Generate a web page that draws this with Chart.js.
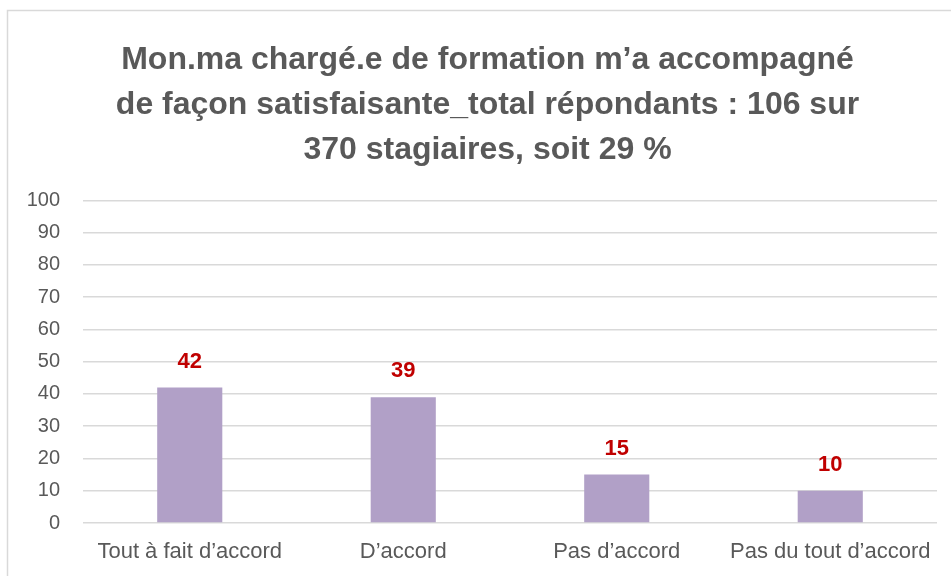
<!DOCTYPE html>
<html>
<head>
<meta charset="utf-8">
<script src="https://cdn.jsdelivr.net/npm/chart.js@4"></script>
<style>
  html, body { margin: 0; padding: 0; background: #fff; }
  #wrap { width: 951px; height: 576px; position: relative; }
</style>
</head>
<body>
<div id="wrap"><canvas id="c" width="951" height="576"></canvas></div>
<script>
const titleLines = [
  "Mon.ma chargé.e de formation m’a accompagné",
  "de façon satisfaisante_total répondants : 106 sur",
  "370 stagiaires, soit 29 %"
];
const categories = ["Tout à fait d’accord", "D’accord", "Pas d’accord", "Pas du tout d’accord"];
const values = [42, 39, 15, 10];
const yTicks = [0, 10, 20, 30, 40, 50, 60, 70, 80, 90, 100];

const frame = {
  id: 'frame',
  beforeDraw(chart) {
    const ctx = chart.ctx;
    ctx.save();
    ctx.fillStyle = '#ffffff';
    ctx.fillRect(0, 0, chart.width, chart.height);
    ctx.strokeStyle = '#d9d9d9';
    ctx.lineWidth = 1.5;
    ctx.strokeRect(7.5, 10.5, chart.width + 10, chart.height + 10);
    ctx.restore();
  }
};

const valueLabels = {
  id: 'valueLabels',
  afterDatasetsDraw(chart) {
    const ctx = chart.ctx;
    const meta = chart.getDatasetMeta(0);
    ctx.save();
    ctx.fillStyle = '#C00000';
    ctx.font = 'bold 22px "Liberation Sans", Arial, sans-serif';
    ctx.textAlign = 'center';
    ctx.textBaseline = 'middle';
    meta.data.forEach((bar, i) => {
      ctx.fillText(String(values[i]), bar.x, bar.y - 26);
    });
    ctx.restore();
  }
};

new Chart(document.getElementById('c'), {
  type: 'bar',
  data: {
    labels: categories,
    datasets: [{
      data: values,
      backgroundColor: '#b1a0c7',
      borderWidth: 0,
      barPercentage: 0.305,
      categoryPercentage: 1
    }]
  },
  options: {
    responsive: false,
    animation: false,
    layout: { padding: { left: 24, right: 0, top: 0, bottom: 0 } },
    plugins: {
      legend: { display: false },
      tooltip: { enabled: false },
      title: {
        display: true,
        text: titleLines,
        color: '#595959',
        font: { family: '"Liberation Sans Narrow", "Liberation Sans", Arial, sans-serif', size: 32, weight: 'bold', lineHeight: 1.4 },
        padding: { top: 38, bottom: 28 }
      }
    },
    scales: {
      y: {
        min: 0, max: 100,
        afterBuildTicks(axis) { axis.ticks = yTicks.map(v => ({ value: v })); },
        afterFit(axis) { axis.width = 59; },
        ticks: {
          color: '#595959',
          font: { family: '"Liberation Sans", Arial, sans-serif', size: 20 },
          padding: 23
        },
        grid: { color: '#d9d9d9', lineWidth: 1.5, drawTicks: false },
        border: { display: false }
      },
      spacer: {
        position: 'right',
        afterFit(axis) { axis.width = 14; },
        ticks: { display: false },
        grid: { display: false, drawTicks: false },
        border: { display: false }
      },
      x: {
        afterFit(axis) { axis.height = 53; },
        ticks: {
          color: '#595959',
          font: { family: '"Liberation Sans", Arial, sans-serif', size: 22 },
          padding: 16,
          maxRotation: 0,
          autoSkip: false
        },
        grid: { display: false, drawTicks: false },
        border: { display: false }
      }
    }
  },
  plugins: [frame, valueLabels]
});
</script>
</body>
</html>
